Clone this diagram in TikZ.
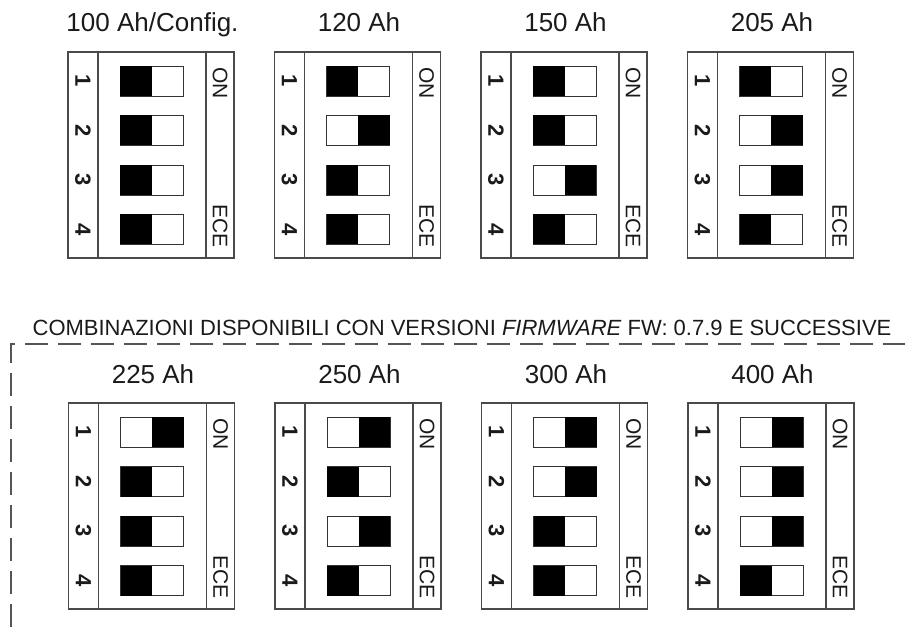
\documentclass[tikz,border=0pt]{standalone}
\usepackage{fontspec}
\setmainfont{Liberation Sans}
\definecolor{txt}{HTML}{1A1A1A}
\definecolor{boxgray}{HTML}{4A4A4A}
\definecolor{swgray}{HTML}{333333}
\definecolor{dashgray}{HTML}{555555}
\tikzset{
  dipbox/.style={draw=boxgray, line width=1.3pt},
  swframe/.style={draw=swgray, line width=0.9pt, fill=white},
  swfill/.style={fill=black},
  titlelbl/.style={font=\fontsize{26}{26}\selectfont, text=txt, anchor=base},
  numlbl/.style={font=\fontsize{22}{22}\selectfont\bfseries, text=txt, rotate=-90},
  sidelbl/.style={font=\fontsize{21}{21}\selectfont, text=txt, rotate=-90},
  fwlbl/.style={font=\fontsize{22}{22}\selectfont, text=txt, anchor=base},
  fwbox/.style={draw=dashgray, line width=1.3pt, dash pattern=on 23pt off 10pt}
}
% #1 x, #2 y (top of box), #3 title, #4 states, #5 name
\newcommand\dipsw[5]{%
  \begin{scope}[shift={(#1,#2)}]
    \node[titlelbl] (#5t) at (84.5,-20) {#3};
    \draw[dipbox] (0,0) rectangle (166,206);
    \draw[dipbox] (30,0) -- (30,206);
    \draw[dipbox] (138,0) -- (138,206);
    \foreach \s [count=\i] in {#4} {
      \pgfmathsetmacro\cy{29+49.5*(\i-1)}
      \node[numlbl] (#5n\i) at (15,\cy) {\i};
      \draw[swframe] (52,\cy-15) rectangle (115,\cy+15);
      \fill[swfill] (52+31.5*\s,\cy-15) rectangle (83.5+31.5*\s,\cy+15);
    }
    \node[sidelbl, anchor=west] (#5on) at (152,12) {ON};
    \node[sidelbl, anchor=east] (#5ece) at (152,199) {ECE};
  \end{scope}}
\begin{document}
\begin{tikzpicture}[x=1pt,y=-1pt]
\useasboundingbox (0,0) rectangle (905,636);
\dipsw{68}{52}{100 Ah/Config.}{0,0,0,0}{a}
\dipsw{274.5}{52}{120 Ah}{0,1,0,0}{b}
\dipsw{481}{52}{150 Ah}{0,0,1,0}{c}
\dipsw{687.5}{52}{205 Ah}{0,1,1,0}{d}
\node[fwlbl] (fw) at (462,335) {COMBINAZIONI DISPONIBILI CON VERSIONI \textit{FIRMWARE} FW: 0.7.9 E SUCCESSIVE};
\coordinate (fwbl) at (11,660);
\coordinate (fwtr) at (910,344);
\draw[fwbox] (fwbl) |- (fwtr);
\dipsw{68.5}{403}{225 Ah}{1,0,0,0}{e}
\dipsw{275}{403}{250 Ah}{1,0,1,0}{f}
\dipsw{481.5}{403}{300 Ah}{1,1,0,0}{g}
\dipsw{688}{403}{400 Ah}{1,1,1,0}{h}
\end{tikzpicture}
\end{document}
